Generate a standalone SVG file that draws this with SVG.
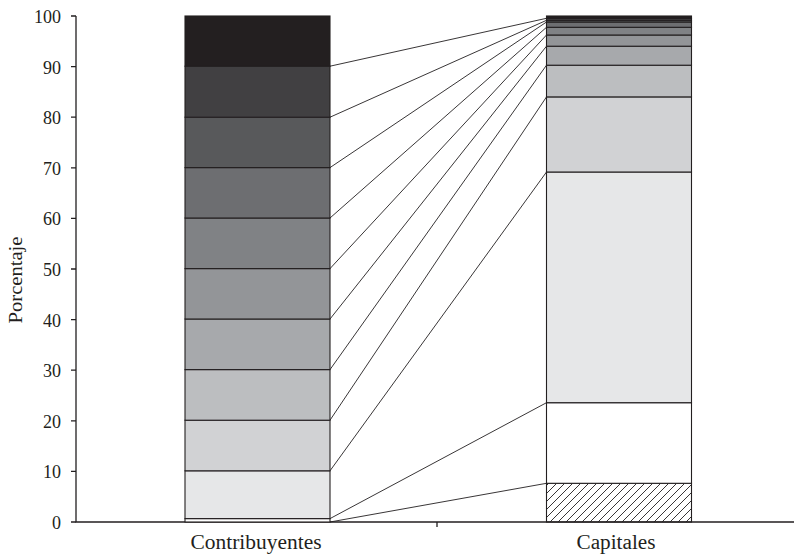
<svg xmlns="http://www.w3.org/2000/svg" width="794" height="554" viewBox="0 0 794 554">
<style>
.seg{stroke:#231f20;stroke-width:1.1}
.conn{stroke:#231f20;stroke-width:0.9;fill:none}
.ax{stroke:#231f20;stroke-width:1.3;fill:none}
.tl{font-family:"Liberation Serif",serif;font-size:18px;fill:#231f20;text-anchor:end}
.xl{font-family:"Liberation Serif",serif;font-size:20px;fill:#231f20;text-anchor:middle}
</style>
<defs>
<pattern id="hatch" patternUnits="userSpaceOnUse" width="8" height="8">
<path d="M0,8 L8,0 M-2,2 L2,-2 M6,10 L10,6" stroke="#231f20" stroke-width="0.9"/>
</pattern>
</defs>
<rect width="794" height="554" fill="#ffffff"/>
<g id="axes">
<path class="ax" d="M76,16 V522 H794"/>
<path class="ax" d="M71,16 H76 M71,66.6 H76 M71,117.2 H76 M71,167.8 H76 M71,218.4 H76 M71,269 H76 M71,319.6 H76 M71,370.2 H76 M71,420.8 H76 M71,471.4 H76 M71,522 H76 M437,522 V527"/>
<text class="tl" x="61" y="23">100</text>
<text class="tl" x="61" y="73.6">90</text>
<text class="tl" x="61" y="124.2">80</text>
<text class="tl" x="61" y="174.8">70</text>
<text class="tl" x="61" y="225.4">60</text>
<text class="tl" x="61" y="276">50</text>
<text class="tl" x="61" y="326.6">40</text>
<text class="tl" x="61" y="377.2">30</text>
<text class="tl" x="61" y="427.8">20</text>
<text class="tl" x="61" y="478.4">10</text>
<text class="tl" x="61" y="529">0</text>
<text font-family="Liberation Serif, serif" font-size="18" fill="#231f20" text-anchor="middle" transform="translate(22,280) rotate(-90)" textLength="87" lengthAdjust="spacingAndGlyphs">Porcentaje</text>
<text class="xl" x="256" y="549" textLength="131" lengthAdjust="spacingAndGlyphs">Contribuyentes</text>
<text class="xl" x="616" y="549" textLength="79" lengthAdjust="spacingAndGlyphs">Capitales</text>
</g>
<g id="connectors">
<path class="conn" d="M330,522 L546.5,483.3 M330,518.6 L546.5,402.7 M330,470.8 L546.5,172 M330,420.2 L546.5,96.9 M330,369.6 L546.5,65.2 M330,319 L546.5,46.2 M330,268.6 L546.5,35 M330,218 L546.5,27.3 M330,167.6 L546.5,22 M330,117.2 L546.5,20.3 M330,66.2 L546.5,18.3"/>
</g>
<g id="contribuyentes">
<rect class="seg" x="185" y="518.6" width="145" height="3.4" fill="#ffffff"/>
<rect class="seg" x="185" y="470.8" width="145" height="47.8" fill="#e6e7e8"/>
<rect class="seg" x="185" y="420.2" width="145" height="50.6" fill="#d1d2d4"/>
<rect class="seg" x="185" y="369.6" width="145" height="50.6" fill="#bcbec0"/>
<rect class="seg" x="185" y="319" width="145" height="50.6" fill="#a7a9ac"/>
<rect class="seg" x="185" y="268.6" width="145" height="50.4" fill="#939598"/>
<rect class="seg" x="185" y="218" width="145" height="50.6" fill="#808285"/>
<rect class="seg" x="185" y="167.6" width="145" height="50.4" fill="#6d6e71"/>
<rect class="seg" x="185" y="117.2" width="145" height="50.4" fill="#58595b"/>
<rect class="seg" x="185" y="66.2" width="145" height="51" fill="#414042"/>
<rect class="seg" x="185" y="16" width="145" height="50.2" fill="#231f20"/>
</g>
<g id="capitales">
<rect class="seg" x="546.5" y="483.3" width="145" height="38.7" fill="url(#hatch)"/>
<rect class="seg" x="546.5" y="402.7" width="145" height="80.6" fill="#ffffff"/>
<rect class="seg" x="546.5" y="172" width="145" height="230.7" fill="#e6e7e8"/>
<rect class="seg" x="546.5" y="96.9" width="145" height="75.1" fill="#d1d2d4"/>
<rect class="seg" x="546.5" y="65.2" width="145" height="31.7" fill="#bcbec0"/>
<rect class="seg" x="546.5" y="46.2" width="145" height="19" fill="#a7a9ac"/>
<rect class="seg" x="546.5" y="35" width="145" height="11.2" fill="#939598"/>
<rect class="seg" x="546.5" y="27.3" width="145" height="7.7" fill="#808285"/>
<rect class="seg" x="546.5" y="22" width="145" height="5.3" fill="#6d6e71"/>
<rect class="seg" x="546.5" y="20.3" width="145" height="1.7" fill="#58595b"/>
<rect class="seg" x="546.5" y="18.3" width="145" height="2" fill="#414042"/>
<rect class="seg" x="546.5" y="16" width="145" height="2.3" fill="#231f20"/>
</g>
</svg>
